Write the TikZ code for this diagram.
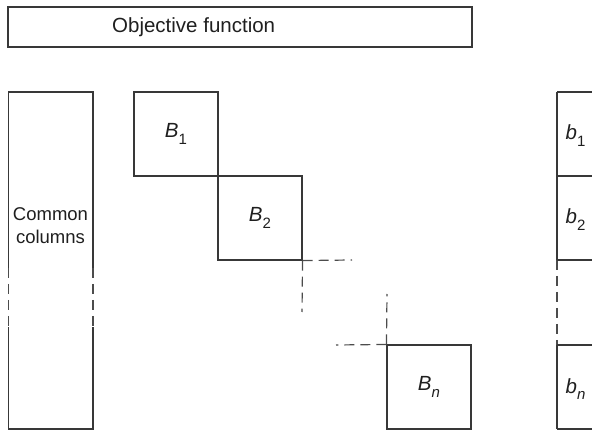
\documentclass[tikz,border=0pt]{standalone}
\usepackage{fontspec}
\setmainfont{Liberation Sans}
% block label: italic letter with a small lowered index
\newcommand\blocklabel[2]{\textit{#1}\raisebox{-0.3em}{\fontsize{15}{15}\selectfont #2}}
\begin{document}
\begin{tikzpicture}[x=1pt,y=-1pt,
  rule/.style={draw=black!78, line width=1.1pt},
  dashrule/.style={rule, draw=black!70, line width=1.2pt, dash pattern=on 10pt off 6pt},
  block/.style={rule, rectangle, minimum width=84pt, minimum height=84pt, inner sep=0pt},
  txt/.style={font=\fontsize{20.5}{24}\selectfont, text=black!88, inner sep=0pt, align=center}]
\useasboundingbox (0,0) rectangle (592,430);
\clip (0,0) rectangle (592,430);

% objective row
\node[rule, rectangle, minimum width=464pt, minimum height=40pt, inner sep=0pt] (obj) at (240,27) {};
\node[txt, anchor=west] (objtxt) at (112,27) {Objective function};

% common columns strip
\coordinate (cc-tl) at (8.5,92);
\coordinate (cc-tr) at (93,92);
\coordinate (cc-bl) at (8.5,429);
\coordinate (cc-br) at (93,429);
\coordinate (cc-l1) at (8.5,268);
\coordinate (cc-l2) at (8.5,327);
\coordinate (cc-r1) at (93,268);
\coordinate (cc-r2) at (93,327);
\draw[rule] (cc-l1) -- (cc-tl) -- (cc-tr) -- (cc-r1);
\draw[rule] (cc-l2) -- (cc-bl) -- (cc-br) -- (cc-r2);
\draw[dashrule] (cc-l1) -- (cc-l2);
\draw[dashrule] (cc-r1) -- (cc-r2);
\node[txt, font=\fontsize{18.5}{23}\selectfont] (cctxt) at (50.5,226) {Common\\columns};

% diagonal blocks
\node[block] (B1) at (176,134) {};
\node[block] (B2) at (260,218) {};
\node[block] (Bn) at (429,387) {};
\node[txt] (B1txt) at (B1) {\blocklabel{B}{1}};
\node[txt] (B2txt) at (B2) {\blocklabel{B}{2}};
\node[txt] (Bntxt) at (Bn) {\blocklabel{B}{\textit{n}}};

% continuation marks between the blocks
\coordinate (B2r) at (352,260);
\coordinate (B2d) at (302,312);
\coordinate (Bnl) at (336,345);
\coordinate (Bnu) at (387,294);
\draw[dashrule] (B2.south east) -- (B2r);
\draw[dashrule] (B2.south east) -- (B2d);
\draw[dashrule] (Bn.north west) -- (Bnl);
\draw[dashrule] (Bn.north west) -- (Bnu);

% right-hand side column
\coordinate (rh-0) at (557,92);
\coordinate (rh-1) at (557,176);
\coordinate (rh-2) at (557,260);
\coordinate (rh-3) at (557,345);
\coordinate (rh-4) at (557,429);
\draw[rule] (rh-0) -- (rh-2);
\draw[dashrule] (rh-2) -- (rh-3);
\draw[rule] (rh-3) -- (rh-4);
\foreach \k in {0,...,4} \draw[rule] (rh-\k) -- ++(40,0);
\node[txt, anchor=base west] (b1txt) at (565.5,140) {\blocklabel{b}{1}};
\node[txt, anchor=base west] (b2txt) at (565.5,224) {\blocklabel{b}{2}};
\node[txt, anchor=base west] (bntxt) at (565.5,393) {\blocklabel{b}{\textit{n}}};
\end{tikzpicture}
\end{document}
